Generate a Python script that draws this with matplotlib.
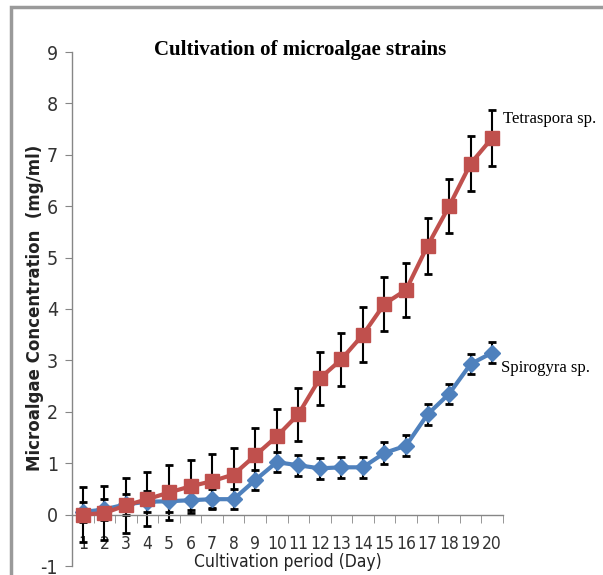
import matplotlib
matplotlib.use('Agg')
import matplotlib.pyplot as plt
from matplotlib.patches import Rectangle
import numpy as np

plt.rcParams['axes.unicode_minus'] = False

# 数据
days = list(range(1, 21))
day_labels = [str(d) for d in days]
tetraspora = [0.0, 0.03, 0.18, 0.3, 0.43, 0.55, 0.65, 0.78, 1.15, 1.52,
              1.95, 2.65, 3.02, 3.5, 4.1, 4.37, 5.23, 6.0, 6.83, 7.33]
tetraspora_err = [0.53, 0.52, 0.53, 0.53, 0.53, 0.52, 0.53, 0.52, 0.53, 0.53,
                  0.52, 0.52, 0.52, 0.53, 0.53, 0.53, 0.54, 0.53, 0.53, 0.54]
spirogyra = [0.05, 0.1, 0.2, 0.25, 0.26, 0.28, 0.3, 0.3, 0.67, 1.02,
             0.96, 0.9, 0.92, 0.92, 1.2, 1.34, 1.95, 2.35, 2.93, 3.15]
spirogyra_err = [0.2, 0.2, 0.2, 0.2, 0.2, 0.2, 0.2, 0.2, 0.2, 0.2,
                 0.2, 0.2, 0.2, 0.2, 0.22, 0.2, 0.2, 0.2, 0.2, 0.2]

colors = {
    'red': '#C0504D',
    'blue': '#4F81BD',
    'axis': '#868686',
    'frame': '#9A9A9A',
}
narrow = dict(family='DejaVu Sans', stretch='condensed')
serif = ['Liberation Serif', 'DejaVu Serif']

fig = plt.figure(figsize=(6.03, 5.75), dpi=100)
ax = fig.add_axes([72 / 603, 9 / 575, 431 / 603, 514 / 575])

# 误差线（放在线条下面）
ax.errorbar(days, spirogyra, yerr=spirogyra_err, fmt='none', ecolor='black',
            elinewidth=1.5, capsize=3, capthick=2, zorder=2)
ax.errorbar(days, tetraspora, yerr=tetraspora_err, fmt='none', ecolor='black',
            elinewidth=1.5, capsize=3, capthick=2, zorder=2)

ax.plot(days, spirogyra, color=colors['blue'], lw=3, marker='D',
        markersize=8.5, zorder=3)
ax.plot(days, tetraspora, color=colors['red'], lw=3, marker='s',
        markersize=10, zorder=4)

ax.set_xlim(0.5, 20.5)
ax.set_ylim(-1, 9)
ax.set_yticks(range(-1, 10))

ax.spines['top'].set_visible(False)
ax.spines['right'].set_visible(False)
ax.spines['bottom'].set_position(('data', 0))
for s in ('left', 'bottom'):
    ax.spines[s].set_color(colors['axis'])
    ax.spines[s].set_linewidth(1)

ax.set_xticks(days)
ax.set_xticklabels(day_labels)
ax.set_xticks(np.arange(0.5, 21, 1), minor=True)
ax.tick_params(axis='x', which='major', length=0, pad=15,
               labelsize=12.5, labelcolor='#333333')
ax.tick_params(axis='x', which='minor', length=6, direction='out',
               color=colors['axis'])
ax.tick_params(axis='y', length=5, direction='out', color=colors['axis'],
               pad=5, labelsize=14, labelcolor='#333333')
for lab in ax.get_xticklabels() + ax.get_yticklabels():
    lab.set_family('DejaVu Sans')
    lab.set_stretch('condensed')

ax.text(10.5, -0.93, 'Cultivation period (Day)', ha='center', va='center',
        fontsize=12.5, color='#222222', **narrow)

fig.text(35 / 603, 1 - 308 / 575, 'Microalgae Concentration  (mg/ml)',
         rotation=90, ha='center', va='center', fontsize=12,
         fontweight='bold', color='#222222')

fig.text(300 / 603, 1 - 50 / 575, 'Cultivation of microalgae strains',
         ha='center', va='center', fontsize=15, fontweight='bold',
         family=serif)

ax.text(20.5, 7.7, 'Tetraspora sp.', ha='left', va='center',
        fontsize=12, family=serif)
ax.text(20.4, 2.85, 'Spirogyra sp.', ha='left', va='center',
        fontsize=12, family=serif)

# 外框
fig.add_artist(Rectangle((11 / 603, -0.1), 1.5, 1 - 7 / 575 + 0.1,
                         transform=fig.transFigure, fill=False,
                         edgecolor=colors['frame'], lw=2.5))

fig.savefig('out.png', dpi=100, facecolor='white')
